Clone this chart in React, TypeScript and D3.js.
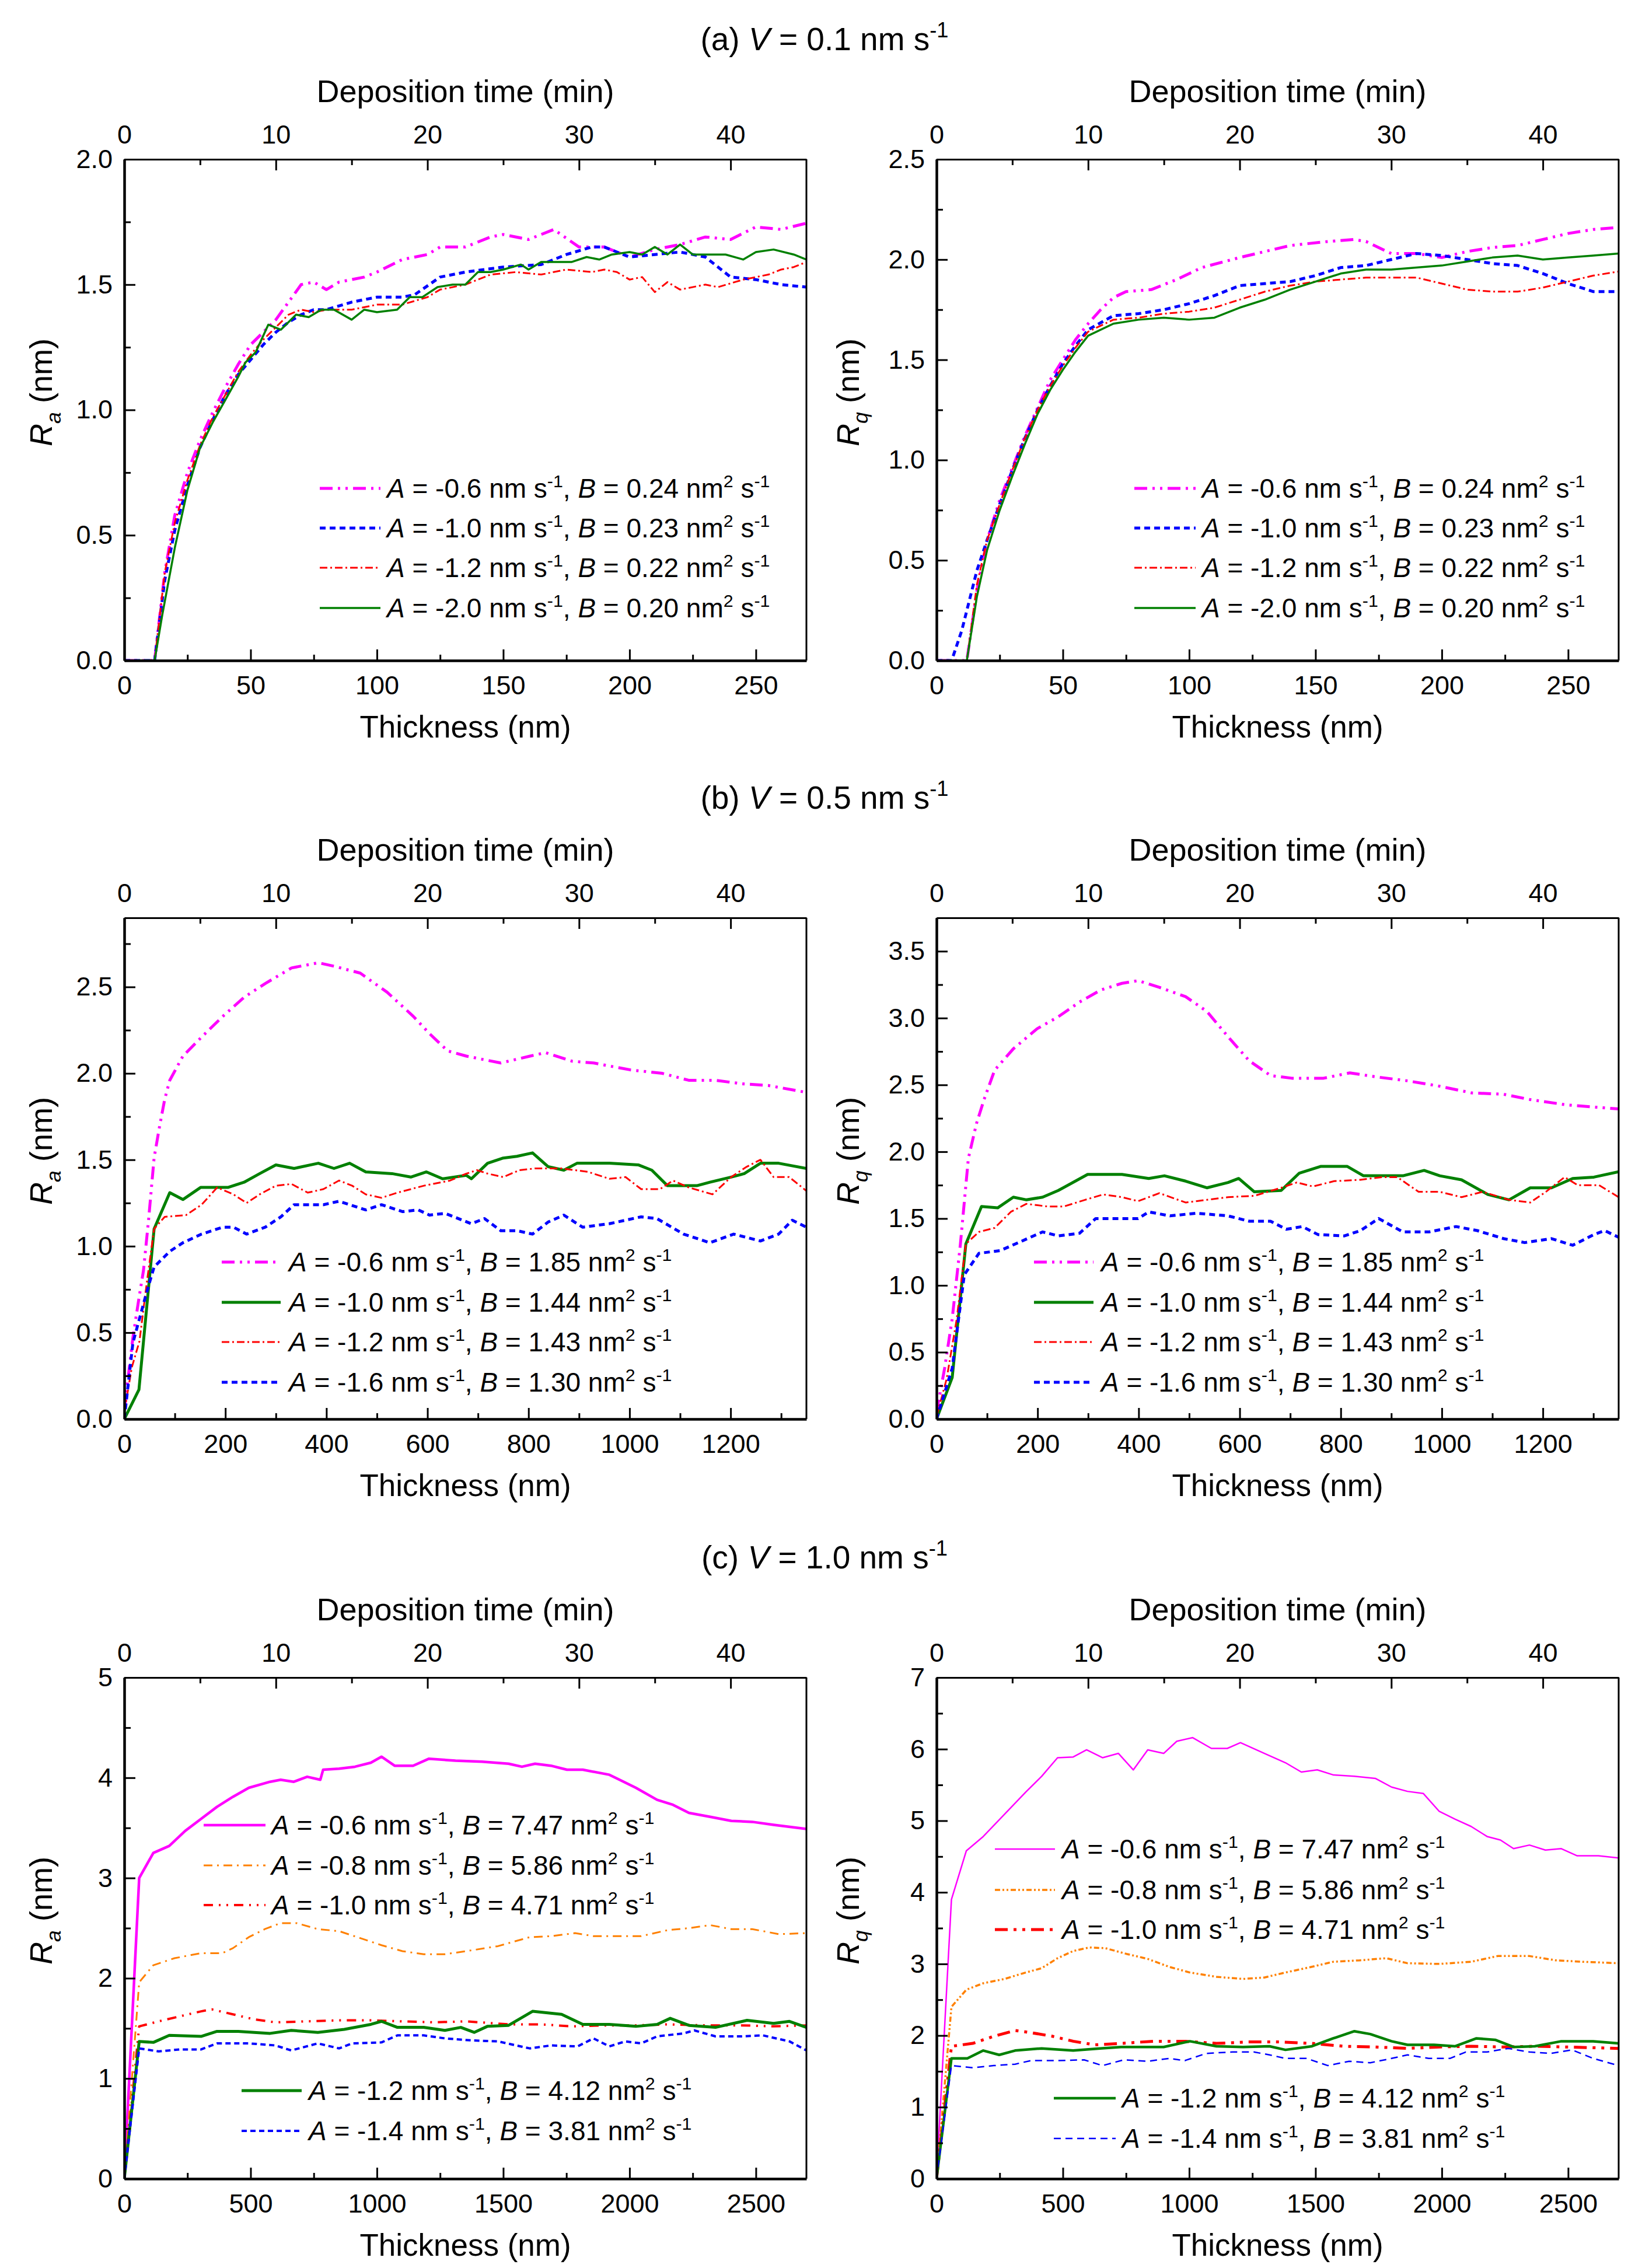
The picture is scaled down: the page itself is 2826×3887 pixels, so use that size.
import { useEffect, useRef } from "react";
import * as d3 from "d3";

type Pt = [number, number];

// ---------- (a) V = 0.1 nm/s ----------
const aRaM: Pt[] = [[0,0],[12,0],[16,0.35],[20,0.58],[25,0.75],[30,0.88],[35,0.99],[40,1.09],[45,1.18],[50,1.26],[55,1.31],[60,1.36],[65,1.43],[70,1.50],[75,1.51],[80,1.48],[85,1.51],[95,1.53],[100,1.55],[110,1.60],[120,1.62],[125,1.65],[135,1.65],[145,1.69],[150,1.70],[160,1.68],[170,1.72],[180,1.65],[190,1.65],[200,1.61],[210,1.64],[220,1.66],[230,1.69],[240,1.68],[250,1.73],[260,1.72],[270,1.745]];
const aRaB: Pt[] = [[0,0],[12,0],[16,0.32],[20,0.52],[25,0.70],[30,0.85],[35,0.96],[40,1.06],[45,1.14],[50,1.20],[55,1.26],[60,1.31],[65,1.35],[70,1.38],[75,1.40],[80,1.40],[90,1.43],[100,1.45],[110,1.45],[115,1.46],[125,1.53],[135,1.55],[150,1.57],[165,1.58],[175,1.62],[185,1.65],[190,1.65],[200,1.61],[210,1.62],[220,1.63],[230,1.61],[240,1.53],[250,1.52],[260,1.50],[270,1.49]];
const aRaR: Pt[] = [[0,0],[12,0],[16,0.35],[20,0.55],[25,0.72],[30,0.86],[35,0.97],[40,1.06],[45,1.15],[50,1.22],[55,1.28],[60,1.33],[65,1.38],[70,1.40],[75,1.39],[80,1.40],[90,1.40],[100,1.42],[110,1.42],[120,1.45],[125,1.48],[135,1.50],[145,1.54],[155,1.55],[165,1.54],[175,1.56],[185,1.55],[190,1.56],[195,1.55],[200,1.52],[205,1.53],[210,1.47],[215,1.51],[220,1.48],[230,1.50],[235,1.49],[245,1.52],[255,1.54],[260,1.56],[265,1.57],[270,1.59]];
const aRaG: Pt[] = [[0,0],[12,0],[15,0.18],[20,0.45],[25,0.68],[30,0.85],[35,0.95],[40,1.04],[45,1.13],[48,1.19],[52,1.23],[57,1.34],[62,1.32],[68,1.38],[73,1.37],[78,1.40],[83,1.40],[90,1.36],[95,1.40],[100,1.39],[108,1.40],[113,1.45],[118,1.45],[124,1.49],[130,1.50],[135,1.50],[140,1.55],[145,1.55],[150,1.56],[157,1.58],[160,1.56],[165,1.59],[172,1.59],[177,1.59],[183,1.61],[188,1.60],[193,1.62],[200,1.63],[205,1.62],[210,1.65],[215,1.62],[220,1.66],[225,1.62],[230,1.62],[238,1.62],[245,1.60],[250,1.63],[257,1.64],[265,1.62],[270,1.60]];

const aRqM: Pt[] = [[0,0],[12,0],[16,0.35],[20,0.6],[25,0.8],[30,0.96],[35,1.12],[40,1.26],[45,1.40],[50,1.50],[55,1.60],[60,1.68],[65,1.75],[70,1.81],[75,1.84],[85,1.85],[95,1.90],[105,1.96],[120,2.01],[130,2.04],[140,2.07],[155,2.09],[165,2.10],[170,2.09],[180,2.03],[190,2.03],[200,2.01],[210,2.04],[220,2.06],[230,2.07],[240,2.10],[250,2.13],[260,2.15],[270,2.16]];
const aRqB: Pt[] = [[0,0],[6,0],[10,0.15],[16,0.45],[20,0.6],[25,0.78],[30,0.95],[35,1.11],[40,1.25],[45,1.37],[50,1.48],[55,1.57],[60,1.65],[70,1.72],[80,1.73],[90,1.75],[100,1.78],[110,1.82],[120,1.87],[130,1.88],[140,1.89],[150,1.92],[160,1.96],[170,1.97],[180,2.00],[190,2.03],[200,2.02],[210,2.00],[220,1.98],[230,1.97],[240,1.93],[250,1.88],[260,1.84],[270,1.84]];
const aRqR: Pt[] = [[0,0],[12,0],[16,0.38],[20,0.6],[25,0.78],[30,0.95],[35,1.11],[40,1.25],[45,1.37],[50,1.47],[55,1.56],[60,1.64],[70,1.70],[80,1.71],[90,1.73],[100,1.74],[110,1.76],[120,1.80],[130,1.84],[140,1.87],[150,1.89],[160,1.90],[170,1.91],[180,1.91],[190,1.91],[200,1.88],[210,1.85],[220,1.84],[230,1.84],[240,1.86],[250,1.89],[260,1.92],[270,1.94]];
const aRqG: Pt[] = [[0,0],[12,0],[16,0.32],[20,0.55],[25,0.75],[30,0.92],[35,1.08],[40,1.23],[45,1.35],[50,1.45],[55,1.54],[60,1.62],[70,1.68],[80,1.70],[90,1.71],[100,1.70],[110,1.71],[120,1.76],[130,1.80],[140,1.85],[150,1.89],[160,1.93],[170,1.95],[180,1.95],[190,1.96],[200,1.97],[210,1.99],[220,2.01],[230,2.02],[240,2.00],[250,2.01],[260,2.02],[270,2.03]];

// ---------- (b) V = 0.5 nm/s ----------
const bRaM: Pt[] = [[0,0.05],[8,0.25],[17,0.47],[28,0.68],[38,0.86],[48,1.15],[59,1.51],[69,1.68],[80,1.85],[90,1.96],[116,2.10],[153,2.21],[195,2.33],[237,2.44],[279,2.52],[331,2.61],[384,2.64],[415,2.62],[467,2.58],[520,2.47],[572,2.33],[604,2.23],[640,2.13],[677,2.10],[745,2.06],[803,2.10],[834,2.12],[887,2.07],[929,2.06],[1002,2.02],[1065,2.00],[1117,1.96],[1170,1.96],[1222,1.94],[1274,1.93],[1350,1.89]];
const bRaG: Pt[] = [[0,0],[29,0.17],[59,1.10],[90,1.31],[116,1.27],[151,1.34],[205,1.34],[237,1.37],[268,1.42],[300,1.47],[336,1.45],[384,1.48],[415,1.45],[446,1.48],[478,1.43],[530,1.42],[567,1.40],[598,1.43],[630,1.39],[677,1.41],[687,1.39],[719,1.48],[750,1.51],[777,1.52],[808,1.54],[839,1.46],[870,1.44],[896,1.48],[960,1.48],[1018,1.47],[1044,1.44],[1075,1.35],[1133,1.35],[1159,1.37],[1201,1.40],[1227,1.42],[1259,1.48],[1295,1.48],[1350,1.45]];
const bRaR: Pt[] = [[0,0.04],[15,0.3],[30,0.45],[45,0.8],[59,1.10],[80,1.17],[122,1.18],[153,1.24],[184,1.34],[216,1.30],[242,1.25],[268,1.30],[300,1.35],[331,1.36],[363,1.31],[394,1.33],[425,1.38],[451,1.35],[478,1.30],[509,1.28],[541,1.31],[593,1.35],[645,1.38],[677,1.42],[698,1.44],[719,1.42],[750,1.40],[782,1.44],[813,1.45],[866,1.45],[918,1.43],[960,1.39],[992,1.40],[1023,1.33],[1060,1.33],[1086,1.38],[1117,1.34],[1164,1.30],[1201,1.40],[1232,1.46],[1259,1.50],[1285,1.40],[1316,1.40],[1350,1.32]];
const bRaB: Pt[] = [[0,0],[17,0.44],[43,0.72],[59,0.88],[90,0.97],[116,1.02],[153,1.07],[195,1.11],[216,1.11],[242,1.07],[279,1.11],[310,1.17],[336,1.24],[394,1.24],[425,1.26],[478,1.21],[509,1.24],[551,1.20],[582,1.21],[604,1.18],[635,1.19],[687,1.13],[713,1.16],[745,1.09],[777,1.09],[808,1.07],[839,1.14],[870,1.18],[907,1.11],[960,1.13],[1023,1.17],[1054,1.16],[1107,1.07],[1159,1.02],[1206,1.07],[1259,1.03],[1295,1.07],[1322,1.15],[1350,1.11]];

const bRqM: Pt[] = [[0,0.05],[16,0.38],[31,0.75],[47,1.30],[63,1.95],[79,2.21],[94,2.39],[115,2.61],[152,2.77],[199,2.92],[241,3.01],[283,3.12],[325,3.21],[367,3.26],[399,3.28],[441,3.23],[493,3.16],[535,3.05],[577,2.86],[619,2.68],[661,2.57],[703,2.55],[766,2.55],[818,2.59],[870,2.56],[933,2.53],[996,2.49],[1059,2.44],[1122,2.43],[1175,2.39],[1248,2.35],[1350,2.32]];
const bRqG: Pt[] = [[0,0],[31,0.31],[58,1.31],[89,1.59],[121,1.58],[152,1.66],[178,1.64],[210,1.66],[241,1.71],[299,1.83],[367,1.83],[420,1.80],[451,1.82],[493,1.78],[535,1.73],[577,1.77],[598,1.80],[629,1.70],[682,1.71],[718,1.84],[760,1.89],[813,1.89],[845,1.82],[892,1.82],[923,1.82],[965,1.86],[996,1.82],[1039,1.79],[1091,1.68],[1133,1.64],[1175,1.73],[1217,1.73],[1259,1.80],[1301,1.81],[1350,1.85]];
const bRqR: Pt[] = [[0,0.02],[20,0.3],[40,0.75],[58,1.31],[84,1.40],[115,1.43],[147,1.55],[178,1.61],[220,1.59],[252,1.59],[294,1.64],[330,1.68],[367,1.66],[399,1.63],[441,1.69],[493,1.62],[535,1.64],[577,1.66],[629,1.67],[682,1.73],[713,1.77],[745,1.74],[787,1.78],[839,1.79],[881,1.81],[912,1.81],[954,1.70],[996,1.70],[1039,1.66],[1081,1.70],[1133,1.64],[1175,1.62],[1206,1.70],[1243,1.81],[1269,1.75],[1311,1.75],[1350,1.66]];
const bRqB: Pt[] = [[0,0],[31,0.38],[55,1.08],[84,1.24],[126,1.26],[168,1.33],[210,1.40],[241,1.37],[283,1.39],[315,1.50],[367,1.50],[399,1.50],[420,1.55],[462,1.52],[514,1.54],[577,1.52],[619,1.48],[661,1.48],[692,1.42],[724,1.44],[755,1.38],[807,1.37],[839,1.41],[875,1.50],[923,1.40],[975,1.40],[1028,1.44],[1070,1.41],[1122,1.35],[1164,1.32],[1217,1.35],[1259,1.30],[1301,1.38],[1322,1.41],[1350,1.36]];

// ---------- (c) V = 1.0 nm/s ----------
const cRaM: Pt[] = [[0,0],[59,3.00],[115,3.25],[178,3.32],[241,3.47],[304,3.59],[367,3.71],[430,3.81],[493,3.90],[577,3.96],[619,3.98],[671,3.96],[724,4.01],[776,3.98],[787,4.08],[850,4.09],[913,4.11],[976,4.15],[1018,4.21],[1070,4.12],[1143,4.12],[1206,4.19],[1311,4.17],[1416,4.16],[1521,4.14],[1574,4.11],[1626,4.14],[1689,4.12],[1752,4.08],[1815,4.08],[1920,4.03],[2025,3.90],[2109,3.78],[2172,3.73],[2235,3.65],[2319,3.61],[2403,3.57],[2486,3.56],[2570,3.53],[2700,3.49]];
const cRaO: Pt[] = [[0,0],[59,1.96],[115,2.13],[199,2.20],[304,2.25],[388,2.25],[430,2.30],[493,2.41],[556,2.49],[619,2.55],[682,2.55],[766,2.49],[850,2.47],[934,2.40],[1018,2.33],[1101,2.27],[1185,2.24],[1269,2.24],[1353,2.27],[1479,2.32],[1605,2.41],[1689,2.42],[1784,2.45],[1857,2.42],[1941,2.42],[2046,2.42],[2151,2.48],[2235,2.50],[2319,2.53],[2403,2.49],[2486,2.49],[2591,2.44],[2700,2.45]];
const cRaR: Pt[] = [[0,0],[59,1.52],[136,1.57],[220,1.62],[304,1.67],[346,1.69],[430,1.64],[514,1.59],[598,1.56],[724,1.57],[850,1.58],[976,1.58],[1101,1.57],[1227,1.56],[1353,1.57],[1521,1.54],[1647,1.54],[1773,1.52],[1899,1.53],[2025,1.53],[2151,1.54],[2298,1.53],[2444,1.53],[2570,1.52],[2700,1.53]];
const cRaG: Pt[] = [[0,0],[59,1.37],[115,1.36],[178,1.43],[304,1.42],[367,1.47],[451,1.47],[577,1.45],[661,1.48],[766,1.46],[871,1.49],[976,1.54],[1018,1.57],[1081,1.51],[1185,1.51],[1269,1.48],[1332,1.51],[1385,1.46],[1437,1.52],[1521,1.53],[1616,1.67],[1731,1.64],[1815,1.54],[1920,1.54],[2025,1.52],[2109,1.54],[2161,1.60],[2235,1.53],[2340,1.51],[2465,1.58],[2570,1.55],[2633,1.57],[2700,1.51]];
const cRaB: Pt[] = [[0,0],[59,1.30],[136,1.27],[220,1.29],[304,1.29],[367,1.35],[493,1.35],[598,1.33],[661,1.28],[766,1.35],[850,1.30],[902,1.35],[1018,1.36],[1081,1.43],[1185,1.43],[1269,1.40],[1374,1.38],[1479,1.37],[1605,1.30],[1689,1.33],[1794,1.32],[1857,1.40],[1920,1.32],[1983,1.37],[2046,1.35],[2109,1.42],[2214,1.45],[2256,1.48],[2340,1.42],[2444,1.42],[2528,1.43],[2633,1.37],[2700,1.28]];

const cRqM: Pt[] = [[0,0],[59,3.90],[118,4.58],[185,4.78],[269,5.09],[353,5.40],[416,5.62],[479,5.88],[541,5.89],[594,5.99],[657,5.88],[720,5.94],[779,5.71],[836,5.99],[899,5.94],[951,6.11],[1014,6.16],[1088,6.01],[1151,6.01],[1203,6.09],[1298,5.94],[1381,5.81],[1444,5.68],[1507,5.71],[1570,5.64],[1654,5.62],[1738,5.59],[1801,5.47],[1864,5.41],[1927,5.38],[1990,5.13],[2053,5.02],[2116,4.92],[2179,4.78],[2232,4.73],[2284,4.61],[2347,4.66],[2410,4.59],[2473,4.61],[2536,4.51],[2620,4.51],[2700,4.48]];
const cRqO: Pt[] = [[0,0],[59,2.40],[118,2.64],[185,2.73],[269,2.79],[353,2.88],[416,2.94],[479,3.08],[541,3.18],[605,3.23],[668,3.22],[752,3.14],[836,3.07],[920,2.96],[1003,2.88],[1108,2.82],[1213,2.79],[1297,2.81],[1381,2.88],[1486,2.96],[1570,3.03],[1675,3.05],[1780,3.08],[1864,3.01],[1990,3.00],[2116,3.03],[2221,3.11],[2347,3.11],[2452,3.05],[2557,3.03],[2700,3.01]];
const cRqR: Pt[] = [[0,0],[59,1.85],[143,1.89],[227,1.99],[311,2.07],[374,2.04],[458,1.99],[541,1.92],[626,1.87],[731,1.89],[857,1.92],[983,1.92],[1108,1.89],[1234,1.91],[1360,1.91],[1486,1.89],[1612,1.85],[1738,1.84],[1864,1.82],[1990,1.84],[2116,1.85],[2242,1.84],[2368,1.85],[2494,1.84],[2700,1.82]];
const cRqG: Pt[] = [[0,0],[59,1.68],[122,1.68],[185,1.79],[248,1.73],[311,1.79],[416,1.82],[541,1.79],[647,1.82],[731,1.84],[899,1.84],[1003,1.92],[1108,1.85],[1213,1.84],[1318,1.85],[1381,1.80],[1486,1.85],[1570,1.96],[1654,2.06],[1717,2.02],[1801,1.92],[1864,1.87],[1969,1.87],[2053,1.85],[2137,1.96],[2211,1.94],[2284,1.84],[2368,1.85],[2473,1.92],[2599,1.92],[2700,1.89]];
const cRqB: Pt[] = [[0,0],[59,1.58],[143,1.55],[227,1.58],[311,1.60],[374,1.65],[479,1.65],[584,1.66],[657,1.58],[741,1.66],[836,1.64],[920,1.68],[983,1.65],[1067,1.75],[1172,1.77],[1256,1.77],[1318,1.73],[1381,1.68],[1465,1.68],[1549,1.58],[1633,1.64],[1717,1.62],[1801,1.68],[1864,1.73],[1948,1.68],[2032,1.68],[2095,1.77],[2179,1.77],[2263,1.82],[2347,1.77],[2431,1.75],[2515,1.80],[2599,1.68],[2700,1.58]];

// legend values (A in nm s^-1, B in nm^2 s^-1)
const aA = ["-0.6", "-1.0", "-1.2", "-2.0"];
const aB = ["0.24", "0.23", "0.22", "0.20"];
const bA = ["-0.6", "-1.0", "-1.2", "-1.6"];
const bB = ["1.85", "1.44", "1.43", "1.30"];
const cA = ["-0.6", "-0.8", "-1.0", "-1.2", "-1.4"];
const cB = ["7.47", "5.86", "4.71", "4.12", "3.81"];

const FONT = "'Liberation Sans', Arial, Helvetica, sans-serif";
const MAG = "#ff00ff", BLU = "#0000ff", RED = "#ff0000", GRN = "#008000", ORA = "#ff8000";

type Style = { color: string; width: number; dash?: string };
type Part = { t: string; i?: boolean; sup?: boolean; sub?: boolean };

const sMagDD: Style = { color: MAG, width: 5, dash: "22,9,4,9,4,9" };
const sBluSD: Style = { color: BLU, width: 5, dash: "10,7" };
const sRedDD: Style = { color: RED, width: 3, dash: "13,5,3,5" };
const sGrn: Style = { color: GRN, width: 3.5 };
const sGrnThick: Style = { color: GRN, width: 5 };

const PW = 1169, PH = 859;
const LEFT_X = 213, RIGHT_X = 1605;
const TOPS = [273, 1573, 2875];

type Panel = {
  left: number; top: number; xMax: number; xStep: number;
  yMax: number; yStep: number; yFmt: string; sub: string; yTitleDx: number;
  series: { data: Pt[]; style: Style }[];
  A: string[]; B: string[];
  legends: { x0: number; x1: number; tx: number; rows: number[]; items: number[] }[];
};

const panels: Panel[] = [
  { left: LEFT_X, top: TOPS[0], xMax: 270, xStep: 50, yMax: 2.0, yStep: 0.5, yFmt: ".1f", sub: "a", yTitleDx: 124,
    series: [{ data: aRaM, style: sMagDD }, { data: aRaB, style: sBluSD }, { data: aRaR, style: sRedDD }, { data: aRaG, style: sGrn }],
    A: aA, B: aB, legends: [{ x0: 335, x1: 439, tx: 450, rows: [564, 632, 700, 769], items: [0, 1, 2, 3] }] },
  { left: RIGHT_X, top: TOPS[0], xMax: 270, xStep: 50, yMax: 2.5, yStep: 0.5, yFmt: ".1f", sub: "q", yTitleDx: 133,
    series: [{ data: aRqM, style: sMagDD }, { data: aRqB, style: sBluSD }, { data: aRqR, style: sRedDD }, { data: aRqG, style: sGrn }],
    A: aA, B: aB, legends: [{ x0: 339, x1: 444, tx: 455, rows: [564, 632, 700, 769], items: [0, 1, 2, 3] }] },
  { left: LEFT_X, top: TOPS[1], xMax: 1350, xStep: 200, yMax: 2.9, yStep: 0.5, yFmt: ".1f", sub: "a", yTitleDx: 124,
    series: [{ data: bRaM, style: sMagDD }, { data: bRaG, style: sGrnThick }, { data: bRaR, style: sRedDD }, { data: bRaB, style: sBluSD }],
    A: bA, B: bB, legends: [{ x0: 167, x1: 268, tx: 282, rows: [590, 659, 727, 796], items: [0, 1, 2, 3] }] },
  { left: RIGHT_X, top: TOPS[1], xMax: 1350, xStep: 200, yMax: 3.75, yStep: 0.5, yFmt: ".1f", sub: "q", yTitleDx: 133,
    series: [{ data: bRqM, style: sMagDD }, { data: bRqG, style: sGrnThick }, { data: bRqR, style: sRedDD }, { data: bRqB, style: sBluSD }],
    A: bA, B: bB, legends: [{ x0: 167, x1: 269, tx: 282, rows: [590, 659, 727, 796], items: [0, 1, 2, 3] }] },
  { left: LEFT_X, top: TOPS[2], xMax: 2700, xStep: 500, yMax: 5, yStep: 1, yFmt: "d", sub: "a", yTitleDx: 124,
    series: [
      { data: cRaM, style: { color: MAG, width: 4.5 } },
      { data: cRaO, style: { color: ORA, width: 3, dash: "15,8,3,8" } },
      { data: cRaR, style: { color: RED, width: 4, dash: "16,10,3,10,3,10" } },
      { data: cRaG, style: { color: GRN, width: 5 } },
      { data: cRaB, style: { color: BLU, width: 4, dash: "9,6" } },
    ],
    A: cA, B: cB, legends: [
      { x0: 136, x1: 242, tx: 252, rows: [253, 322, 390], items: [0, 1, 2] },
      { x0: 201, x1: 304, tx: 316, rows: [708, 777], items: [3, 4] },
    ] },
  { left: RIGHT_X, top: TOPS[2], xMax: 2700, xStep: 500, yMax: 7, yStep: 1, yFmt: "d", sub: "q", yTitleDx: 133,
    series: [
      { data: cRqM, style: { color: MAG, width: 2.5 } },
      { data: cRqO, style: { color: ORA, width: 3.5, dash: "9,4,3,4,3,4" } },
      { data: cRqR, style: { color: RED, width: 5, dash: "22,10,5,10,5,10" } },
      { data: cRqG, style: { color: GRN, width: 4.5 } },
      { data: cRqB, style: { color: BLU, width: 2.5, dash: "12,8" } },
    ],
    A: cA, B: cB, legends: [
      { x0: 100, x1: 203, tx: 215, rows: [294, 364, 432], items: [0, 1, 2] },
      { x0: 201, x1: 307, tx: 318, rows: [721, 790], items: [3, 4] },
    ] },
];

const titles: { tag: string; v: string }[] = [
  { tag: "(a) ", v: " = 0.1 nm s" },
  { tag: "(b) ", v: " = 0.5 nm s" },
  { tag: "(c) ", v: " = 1.0 nm s" },
];

function rich(sel: d3.Selection<SVGTextElement, unknown, null, undefined>, parts: Part[], size: number) {
  let shift = 0;
  parts.forEach((p) => {
    const target = p.sup ? -size * 0.4 : p.sub ? size * 0.28 : 0;
    const ts = sel.append("tspan").text(p.t);
    if (target !== shift) {
      ts.attr("dy", target - shift);
      shift = target;
    }
    if (p.sup || p.sub) ts.attr("font-size", size * 0.66);
    if (p.i) ts.attr("font-style", "italic");
  });
}

function styleLine(sel: d3.Selection<any, any, any, any>, s: Style) {
  sel.attr("fill", "none").attr("stroke", s.color).attr("stroke-width", s.width)
    .attr("stroke-linejoin", "round");
  if (s.dash) sel.attr("stroke-dasharray", s.dash);
}

function drawPanel(root: d3.Selection<SVGSVGElement, unknown, null, undefined>, p: Panel, idx: number) {
  const g = root.append("g").attr("transform", `translate(${p.left},${p.top})`);
  const x = d3.scaleLinear().domain([0, p.xMax]).range([0, PW]);
  const t = d3.scaleLinear().domain([0, 45]).range([0, PW]);
  const y = d3.scaleLinear().domain([0, p.yMax]).range([PH, 0]);

  const clipId = `clip${idx}`;
  g.append("clipPath").attr("id", clipId).append("rect").attr("width", PW).attr("height", PH);

  const line = d3.line<Pt>().x((d) => x(d[0])).y((d) => y(d[1]));
  const lines = g.append("g").attr("clip-path", `url(#${clipId})`);
  p.series.forEach((s) => {
    styleLine(lines.append("path").datum(s.data).attr("d", line), s.style);
  });

  const eps = 1e-9;
  const xMajor = d3.range(0, p.xMax + eps, p.xStep);
  const xMinor = d3.range(p.xStep / 2, p.xMax - eps, p.xStep);
  const yMajor = d3.range(0, p.yMax + eps, p.yStep);
  const yMinor = d3.range(p.yStep / 2, p.yMax - eps, p.yStep);
  const tMajor = d3.range(0, 41, 10);
  const tMinor = d3.range(5, 45, 10);

  const fmtY = d3.format(p.yFmt);
  const styleAxis = (a: d3.Selection<SVGGElement, unknown, null, undefined>, domainW: number) => {
    a.attr("font-size", 45).attr("font-family", FONT);
    a.select(".domain").attr("stroke-width", domainW);
    a.selectAll(".tick line").attr("stroke-width", 3);
    a.selectAll(".tick text").attr("fill", "#000");
  };

  // bottom
  const bMin = g.append("g").attr("transform", `translate(0,${PH})`)
    .call(d3.axisBottom(x).tickValues(xMinor).tickSizeInner(-10).tickSizeOuter(0).tickFormat(() => ""));
  bMin.select(".domain").remove();
  bMin.selectAll(".tick line").attr("stroke-width", 3);
  const bAx = g.append("g").attr("transform", `translate(0,${PH})`)
    .call(d3.axisBottom(x).tickValues(xMajor).tickSizeInner(-19).tickSizeOuter(0).tickPadding(26).tickFormat(d3.format("d")));
  styleAxis(bAx, 4.5);

  // top (deposition time)
  const tMinAx = g.append("g")
    .call(d3.axisTop(t).tickValues(tMinor).tickSizeInner(-10).tickSizeOuter(0).tickFormat(() => ""));
  tMinAx.select(".domain").remove();
  tMinAx.selectAll(".tick line").attr("stroke-width", 3);
  const tAx = g.append("g")
    .call(d3.axisTop(t).tickValues(tMajor).tickSizeInner(-19).tickSizeOuter(0).tickPadding(27).tickFormat(d3.format("d")));
  styleAxis(tAx, 3);

  // left
  const lMin = g.append("g")
    .call(d3.axisLeft(y).tickValues(yMinor).tickSizeInner(-11).tickSizeOuter(0).tickFormat(() => ""));
  lMin.select(".domain").remove();
  lMin.selectAll(".tick line").attr("stroke-width", 3);
  const lAx = g.append("g")
    .call(d3.axisLeft(y).tickValues(yMajor).tickSizeInner(-19).tickSizeOuter(0).tickPadding(20).tickFormat((d) => fmtY(d as number)));
  styleAxis(lAx, 4.5);

  // right border
  g.append("line").attr("x1", x(p.xMax)).attr("x2", x(p.xMax)).attr("y1", y(0)).attr("y2", y(p.yMax))
    .attr("stroke", "#000").attr("stroke-width", 3);

  // axis titles
  const txt = (xx: number, yy: number, size: number) =>
    g.append("text").attr("x", xx).attr("y", yy).attr("font-size", size).attr("font-family", FONT)
      .attr("text-anchor", "middle").style("white-space", "pre").attr("fill", "#000");

  txt(PW / 2, PH + 113 + 19, 53).text("Thickness (nm)");
  txt(PW / 2, -117 + 19, 54).text("Deposition time (min)");
  const yt = g.append("text").attr("transform", `translate(${-p.yTitleDx},${PH / 2 - 30}) rotate(-90)`)
    .attr("font-size", 54).attr("font-family", FONT).attr("text-anchor", "middle").style("white-space", "pre");
  rich(yt, [{ t: "R", i: true }, { t: p.sub, i: true, sub: true }, { t: " (nm)" }], 54);

  // legends
  p.legends.forEach((lg) => {
    lg.items.forEach((k, r) => {
      const ry = lg.rows[r];
      styleLine(g.append("line").attr("x1", lg.x0).attr("x2", lg.x1).attr("y1", ry).attr("y2", ry), p.series[k].style);
      const lt = g.append("text").attr("x", lg.tx).attr("y", ry + 16).attr("font-size", 46)
        .attr("font-family", FONT).style("white-space", "pre").attr("fill", "#000");
      rich(lt, [
        { t: "A", i: true }, { t: ` = ${p.A[k]} nm s` }, { t: "-1", sup: true }, { t: ", " },
        { t: "B", i: true }, { t: ` = ${p.B[k]} nm` }, { t: "2", sup: true }, { t: " s" }, { t: "-1", sup: true },
      ], 46);
    });
  });
}

export default function App() {
  const ref = useRef<SVGSVGElement>(null);

  useEffect(() => {
    if (!ref.current) return;
    const svg = d3.select(ref.current);
    svg.selectAll("*").remove();
    svg.append("rect").attr("width", 2826).attr("height", 3887).attr("fill", "#fff");

    titles.forEach((tt, i) => {
      const te = svg.append("text").attr("x", 1413).attr("y", TOPS[i] - 206 + 19)
        .attr("font-size", 55).attr("font-family", FONT).attr("text-anchor", "middle")
        .style("white-space", "pre").attr("fill", "#000");
      rich(te, [{ t: tt.tag }, { t: "V", i: true }, { t: tt.v }, { t: "-1", sup: true }], 55);
    });

    panels.forEach((p, i) => drawPanel(svg, p, i));
  }, []);

  return (
    <svg
      ref={ref}
      width={2826}
      height={3887}
      style={{ position: "absolute", left: 0, top: 0, display: "block" }}
    />
  );
}
